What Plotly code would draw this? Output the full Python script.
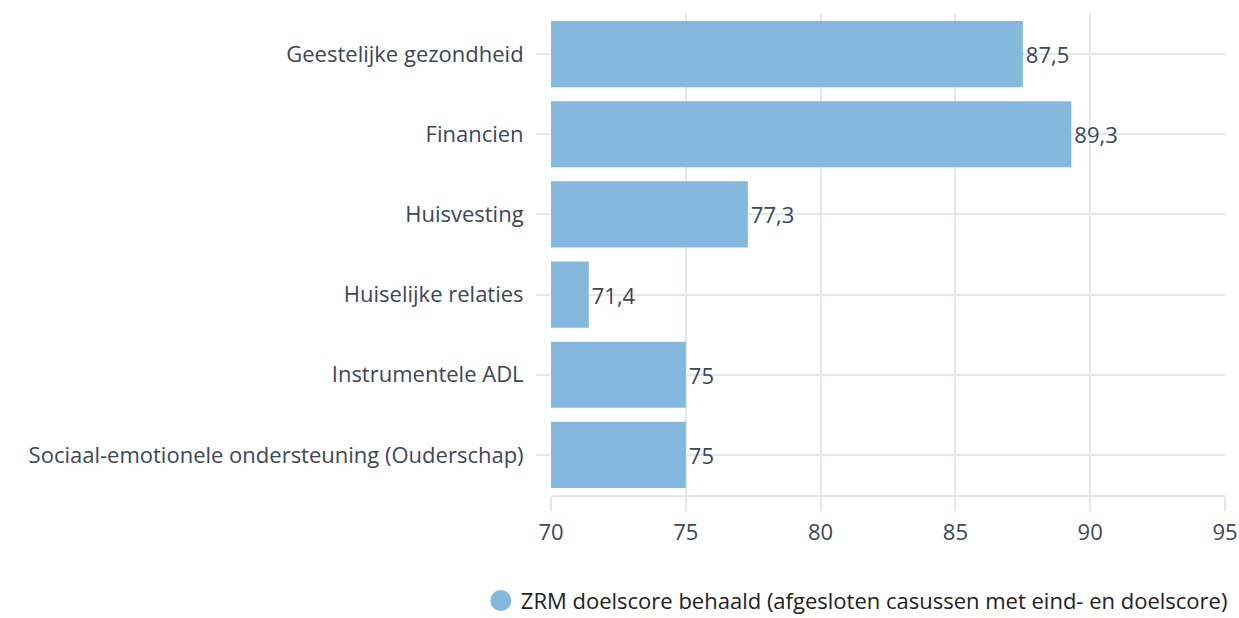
import plotly.graph_objects as go

categories = [
    "Geestelijke gezondheid",
    "Financien",
    "Huisvesting",
    "Huiselijke relaties",
    "Instrumentele ADL",
    "Sociaal-emotionele ondersteuning (Ouderschap)",
]
values = [87.5, 89.3, 77.3, 71.4, 75, 75]
series_name = "ZRM doelscore behaald (afgesloten casussen met eind- en doelscore)"
x_ticks = [70, 75, 80, 85, 90, 95]

bar_color = "#85b8dd"
grid_color = "#e4e7f0"
text_color = "#3d4756"
font_family = "Open Sans, Lato, sans-serif"
fs = 22

W, H = 1239, 618

fig = go.Figure()
fig.add_trace(go.Bar(
    y=categories,
    x=values,
    orientation="h",
    marker=dict(color=bar_color, line=dict(width=0)),
    texttemplate="%{x}",
    textposition="outside",
    textfont=dict(size=fs, color=text_color, family=font_family),
    cliponaxis=False,
    showlegend=False,
    name=series_name,
))
# legend entry with circular symbol
fig.add_trace(go.Scatter(
    x=[None], y=[None],
    mode="markers",
    marker=dict(symbol="circle", size=16, color=bar_color,
                line=dict(width=5, color=bar_color)),
    name=series_name,
    showlegend=True,
))

fig.update_layout(
    width=W, height=H,
    template="plotly_white",
    separators=",.",
    margin=dict(l=551, r=14, t=14, b=123, autoexpand=False),
    bargap=0.175,
    font=dict(family=font_family, size=fs, color=text_color),
    plot_bgcolor="white",
    paper_bgcolor="white",
    legend=dict(
        orientation="h",
        xref="container", yref="container",
        x=0.995, xanchor="right",
        y=0.028, yanchor="middle",
        font=dict(size=fs, color="#222222", family=font_family),
        bgcolor="rgba(0,0,0,0)",
    ),
)
fig.update_xaxes(
    range=[70, 95],
    tickvals=x_ticks,
    automargin=False,
    showgrid=True, gridcolor=grid_color, gridwidth=2,
    showline=True, linecolor=grid_color, linewidth=2,
    ticks="outside", ticklen=14, tickcolor=grid_color, tickwidth=2,
    ticklabelstandoff=3,
    zeroline=False,
    tickfont=dict(size=fs, color=text_color),
)
fig.update_yaxes(
    categoryorder="array",
    categoryarray=categories[::-1],
    automargin=False,
    showgrid=True, gridcolor=grid_color, gridwidth=2,
    ticks="outside", ticklen=14, tickcolor=grid_color, tickwidth=2,
    ticklabelstandoff=8,
    zeroline=False,
    tickfont=dict(size=fs, color=text_color),
)

fig.write_html(
    "out.html",
    config={"displayModeBar": False},
    post_script="document.body.style.margin='0';document.body.style.overflow='hidden';",
)
